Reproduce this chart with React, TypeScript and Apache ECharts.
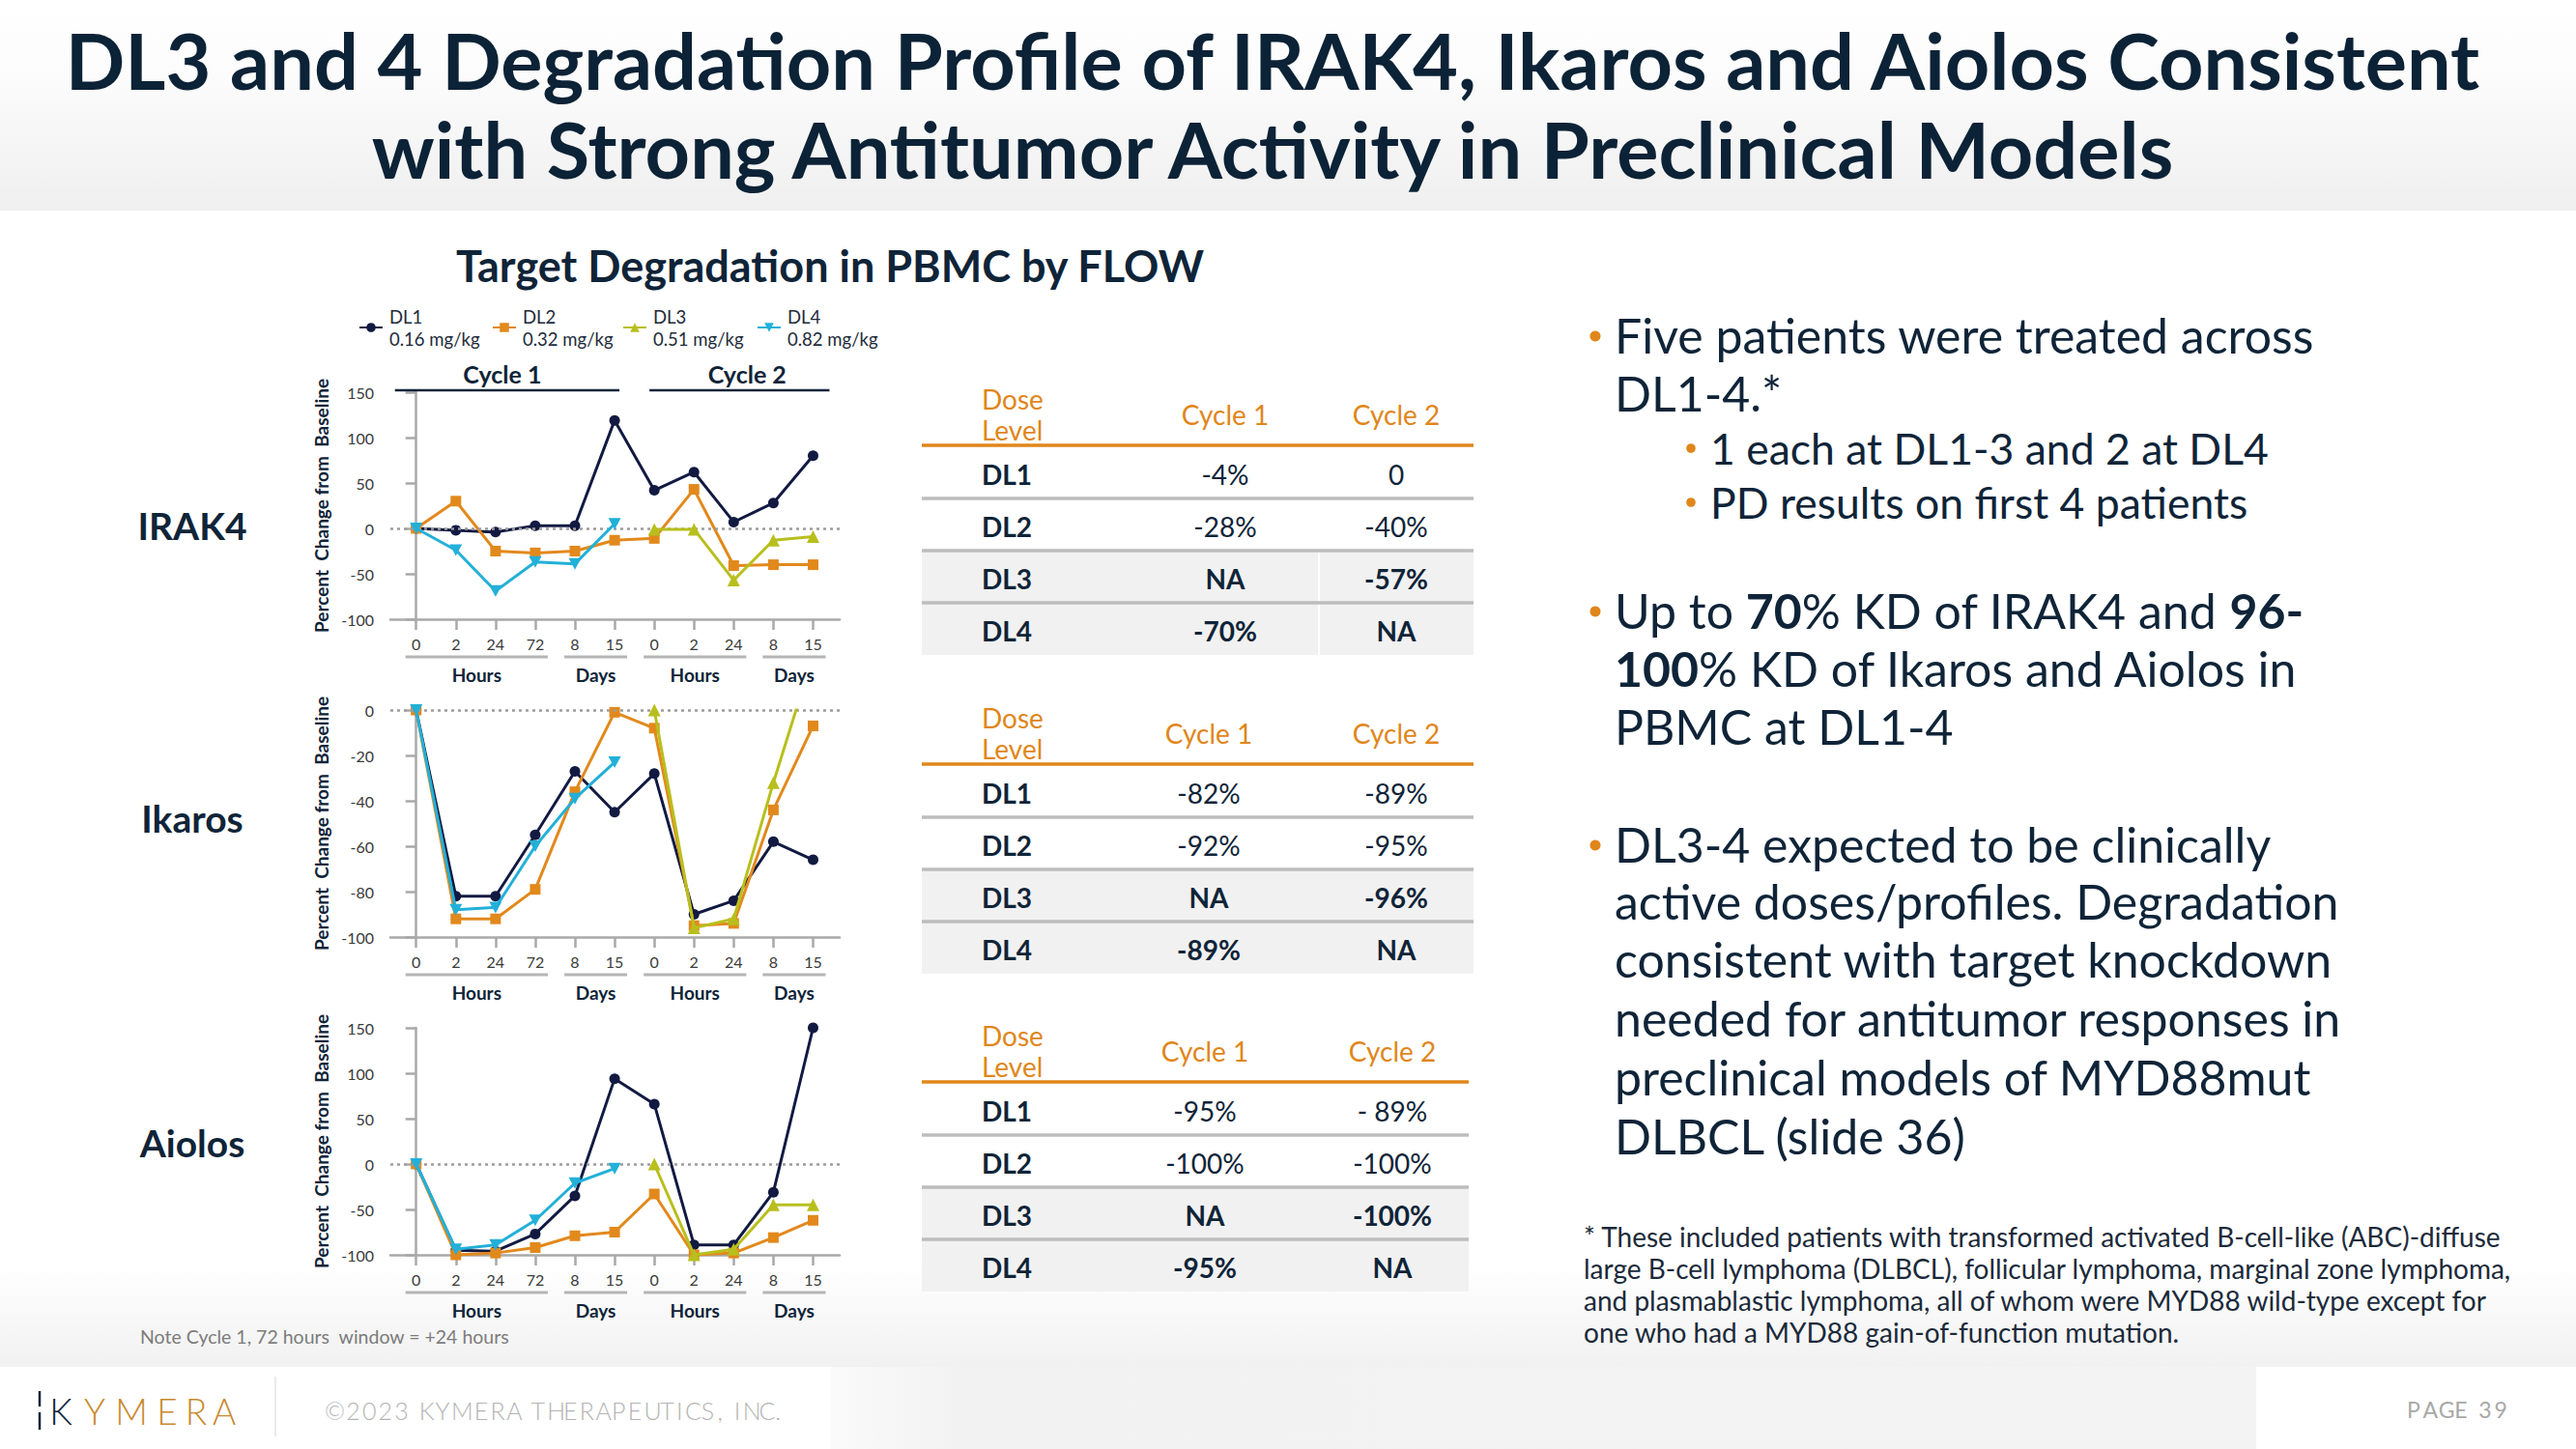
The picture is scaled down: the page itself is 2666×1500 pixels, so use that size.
import React, { useEffect, useRef } from "react";
import * as echarts from "echarts";

// ---------------- DATA ----------------
const timeLabels = ["0", "2", "24", "72", "8", "15", "0", "2", "24", "8", "15"];
const doseNames = ["DL1", "DL2", "DL3", "DL4"];
const doseAmounts = ["0.16 mg/kg", "0.32 mg/kg", "0.51 mg/kg", "0.82 mg/kg"];
const targetNames = ["IRAK4", "Ikaros", "Aiolos"];

const irak4DL1 = [0, -2, -4, 3, 3, 119, 42, 62, 7, 28, 80];
const irak4DL2 = [0, 30, -25, -27, -25, -13, -11, 43, -41, -40, -40];
const irak4DL3 = [null, null, null, null, null, null, -1, -1, -57, -13, -9];
const irak4DL4 = [0, -24, -69, -37, -39, 5, null, null, null, null, null];

const ikarosDL1 = [0, -82, -82, -55, -27, -45, -28, -90, -84, -58, -66];
const ikarosDL2 = [0, -92, -92, -79, -36, -1, -8, -95, -94, -44, -7];
const ikarosDL3 = [null, null, null, null, null, null, 0, -96, -92, -32, 24];
const ikarosDL4 = [0, -88, -87, -60, -39, -23, null, null, null, null, null];

const aiolosDL1 = [0, -95, -96, -77, -35, 94, 66, -89, -89, -31, 150];
const aiolosDL2 = [0, -100, -98, -92, -79, -75, -33, -100, -98, -81, -62];
const aiolosDL3 = [null, null, null, null, null, null, 0, -100, -94, -45, -45];
const aiolosDL4 = [0, -94, -89, -62, -21, -5, null, null, null, null, null];

const tableRowLabels = ["DL1", "DL2", "DL3", "DL4"];
const irak4Cycle1 = ["-4%", "-28%", "NA", "-70%"];
const irak4Cycle2 = ["0", "-40%", "-57%", "NA"];
const ikarosCycle1 = ["-82%", "-92%", "NA", "-89%"];
const ikarosCycle2 = ["-89%", "-95%", "-96%", "NA"];
const aiolosCycle1 = ["-95%", "-100%", "NA", "-95%"];
const aiolosCycle2 = ["- 89%", "-100%", "-100%", "NA"];

const yAxisMins = [-100, -100, -100];
const yAxisMaxs = [150, 0, 150];
const yAxisIntervals = [50, 20, 50];

// ---------------- STYLE / LAYOUT ----------------
const FONT = "Lato, 'Open Sans', 'DejaVu Sans', sans-serif";
const NAVY = "#0f2438";
const ORANGE = "#e0861a";
const AXIS_GRAY = "#a9a9a9";
const doseColors = ["#121a42", "#e2891c", "#b8bf1d", "#22b0d8"];
const doseSymbols = ["circle", "rect", "triangle", "path://M0,0L12,0L6,11Z"];
const doseSymbolSizes = [11, 11, 13, [13, 12]];

const GRID_LEFT = 404;
const GRID_W = 465;
const GRID_H = 235;
const gridTops = [406, 735, 1064];
const X_MIN = -0.65;
const X_MAX = 10.67;
const catX = (i: number) => GRID_LEFT + ((i - X_MIN) * GRID_W) / (X_MAX - X_MIN);

const legendLefts = [366, 504, 639, 778];
const tableOffsets = [0, 330, 659];
const tableC1 = [1268, 1251, 1247];
const tableC2 = [1445, 1445, 1441];
const tableRight = [1525, 1525, 1520];
const rowLabelY = [544, 847, 1183];

const groupSpans = [
  { label: "Hours", from: 0, to: 3 },
  { label: "Days", from: 4, to: 5 },
  { label: "Hours", from: 6, to: 8 },
  { label: "Days", from: 9, to: 10 },
];

const rightLines = [
  { t: "Five patients were treated across", y: 347, lvl: 1, dot: true },
  { t: "DL1-4.*", y: 407, lvl: 1, dot: false },
  { t: "1 each at DL1-3 and 2 at DL4", y: 463, lvl: 2, dot: true },
  { t: "PD results on first 4 patients", y: 519, lvl: 2, dot: true },
  { t: "Up to {b|70}% KD of IRAK4 and {b|96-}", y: 632, lvl: 1, dot: true },
  { t: "{b|100}% KD of Ikaros and Aiolos in", y: 692, lvl: 1, dot: false },
  { t: "PBMC at DL1-4", y: 752, lvl: 1, dot: false },
  { t: "DL3-4 expected to be clinically", y: 874, lvl: 1, dot: true },
  { t: "active doses/profiles. Degradation", y: 933, lvl: 1, dot: false },
  { t: "consistent with target knockdown", y: 993, lvl: 1, dot: false },
  { t: "needed for antitumor responses in", y: 1054, lvl: 1, dot: false },
  { t: "preclinical models of MYD88mut", y: 1115, lvl: 1, dot: false },
  { t: "DLBCL (slide 36)", y: 1176, lvl: 1, dot: false },
];

const footnoteLines = [
  "* These included patients with transformed activated B-cell-like (ABC)-diffuse",
  "large B-cell lymphoma (DLBCL), follicular lymphoma, marginal zone lymphoma,",
  "and plasmablastic lymphoma, all of whom were MYD88 wild-type except for",
  "one who had a MYD88 gain-of-function mutation.",
];
const footnoteY = [1280, 1313, 1346, 1379];

function txt(x: number, y: number, text: string, o: any = {}) {
  return {
    type: "text",
    x,
    y,
    silent: true,
    z: o.z ?? 10,
    style: {
      text,
      fill: o.fill ?? NAVY,
      fontFamily: FONT,
      fontSize: o.size ?? 20,
      fontWeight: o.weight ?? "normal",
      textAlign: o.align ?? "left",
      textVerticalAlign: "middle",
      align: o.align ?? "left",
      verticalAlign: "middle",
      rich: o.rich,
    },
  };
}

function line(x1: number, y1: number, x2: number, y2: number, stroke: string, w: number, z = 5) {
  return { type: "line", silent: true, z, shape: { x1, y1, x2, y2 }, style: { stroke, lineWidth: w } };
}

// draws a string one character at a time to emulate letter spacing
function spaced(x: number, y: number, text: string, size: number, spacing: number, fill: string, weight: any, approxW: number) {
  const out: any[] = [];
  let cx = x;
  for (const ch of text) {
    out.push(txt(cx, y, ch, { size, fill, weight }));
    const w = ch === " " ? 0.26 : ch === "," ? 0.25 : ch === "." ? 0.25 : ch === "I" ? 0.28 : ch === "M" ? 0.86 : ch === "©" ? 0.8 : approxW;
    cx += w * size + spacing;
  }
  return out;
}

function buildGraphics() {
  const g: any[] = [];
  // backgrounds
  g.push({
    type: "rect", silent: true, z: 0, shape: { x: 0, y: 0, width: 2666, height: 218 },
    style: { fill: { type: "linear", x: 0, y: 0, x2: 0, y2: 1, colorStops: [{ offset: 0, color: "#ffffff" }, { offset: 0.35, color: "#fcfcfc" }, { offset: 1, color: "#efefef" }] } },
  });
  g.push({
    type: "rect", silent: true, z: 0, shape: { x: 0, y: 1310, width: 2666, height: 105 },
    style: { fill: { type: "linear", x: 0, y: 0, x2: 0, y2: 1, colorStops: [{ offset: 0, color: "#ffffff" }, { offset: 1, color: "#f1f1f1" }] } },
  });
  g.push({
    type: "rect", silent: true, z: 0, shape: { x: 860, y: 1415, width: 1475, height: 85 },
    style: { fill: { type: "linear", x: 0, y: 0, x2: 1, y2: 0, colorStops: [{ offset: 0, color: "#fafafa" }, { offset: 0.09, color: "#f2f2f2" }, { offset: 1, color: "#f3f3f3" }] } },
  });

  // title
  g.push(txt(1317, 61, "DL3 and 4 Degradation Profile of IRAK4, Ikaros and Aiolos Consistent", { size: 81, weight: "bold", align: "center", fill: "#0c2236" }));
  g.push(txt(1317, 153, "with Strong Antitumor Activity in Preclinical Models", { size: 81, weight: "bold", align: "center", fill: "#0c2236" }));
  g.push(txt(859, 275, "Target Degradation in PBMC by FLOW", { size: 45, weight: "bold", align: "center" }));

  // row labels
  targetNames.forEach((n, k) => g.push(txt(199, rowLabelY[k], n, { size: 39, weight: "bold", align: "center" })));

  // cycle headers
  g.push(txt(catX(2.17), 387, "Cycle 1", { size: 25, weight: "bold", align: "center" }));
  g.push(txt(catX(8.34), 387, "Cycle 2", { size: 25, weight: "bold", align: "center" }));
  g.push(line(catX(0) - 22, 404, catX(5) + 5, 404, NAVY, 2.5));
  g.push(line(catX(6) - 5, 404, catX(10) + 17, 404, NAVY, 2.5));

  // hours/days groups below each chart
  gridTops.forEach((top) => {
    const bottom = top + GRID_H;
    groupSpans.forEach((s) => {
      const x1 = catX(s.from) - 11;
      const x2 = catX(s.to) + 13;
      g.push(line(x1, bottom + 39, x2, bottom + 39, "#b5b5b5", 3));
      g.push(txt((x1 + x2) / 2, bottom + 57, s.label, { size: 19, weight: "bold", align: "center" }));
    });
  });

  g.push(txt(145, 1383, "Note Cycle 1, 72 hours  window = +24 hours", { size: 19.5, fill: "#7c7c7c" }));

  // tables
  const tableData = [
    [irak4Cycle1, irak4Cycle2],
    [ikarosCycle1, ikarosCycle2],
    [aiolosCycle1, aiolosCycle2],
  ];
  tableData.forEach((cols, k) => {
    const o = tableOffsets[k];
    const L = 954;
    const R = tableRight[k];
    g.push({ type: "rect", silent: true, z: 1, shape: { x: L, y: 571 + o, width: R - L, height: 107 }, style: { fill: "#f1f1f1" } });
    if (k === 0) g.push(line(1365, 572, 1365, 678, "#ffffff", 2, 2));
    g.push(line(L, 461 + o, R, 461 + o, ORANGE, 3.5, 3));
    [516, 570, 624].forEach((yy) => g.push(line(L, yy + o, R, yy + o, "#bdbdbd", 3.5, 3)));
    g.push(txt(1016, 413 + o, "Dose", { size: 28, fill: ORANGE }));
    g.push(txt(1016, 445 + o, "Level", { size: 28, fill: ORANGE }));
    g.push(txt(tableC1[k], 429 + o, "Cycle 1", { size: 28, fill: ORANGE, align: "center" }));
    g.push(txt(tableC2[k], 429 + o, "Cycle 2", { size: 28, fill: ORANGE, align: "center" }));
    tableRowLabels.forEach((lab, r) => {
      const yy = 491 + r * 54 + o;
      const w = r >= 2 ? "bold" : "normal";
      g.push(txt(1016, yy, lab, { size: 28, weight: "bold" }));
      g.push(txt(tableC1[k], yy, cols[0][r], { size: 28, weight: w, align: "center" }));
      g.push(txt(tableC2[k], yy, cols[1][r], { size: 28, weight: w, align: "center" }));
    });
  });

  // right-hand text
  rightLines.forEach((ln) => {
    const dotX = ln.lvl === 1 ? 1651 : 1750;
    const tx = ln.lvl === 1 ? 1671 : 1770;
    const size = ln.lvl === 1 ? 50 : 44.5;
    if (ln.dot) g.push({ type: "circle", silent: true, z: 10, shape: { cx: dotX, cy: ln.y + 1, r: ln.lvl === 1 ? 5.5 : 4.8 }, style: { fill: ORANGE } });
    g.push(
      txt(tx, ln.y, ln.t, {
        size,
        rich: { b: { fontFamily: FONT, fontSize: size, fontWeight: "bold", fill: NAVY, color: NAVY } },
      })
    );
  });
  footnoteLines.forEach((t, i) => g.push(txt(1639, footnoteY[i], t, { size: 28, fill: "#1b2a3a" })));

  // footer
  g.push(line(41, 1440, 41, 1456, NAVY, 2.5));
  g.push(line(41, 1462, 41, 1480, NAVY, 2.5));
  const logo = ["K", "Y", "M", "E", "R", "A"];
  const logoX = [63, 98, 136, 173, 203, 232];
  logo.forEach((c, i) =>
    g.push(txt(logoX[i], 1460, c, { size: 37, weight: 300, align: "center", fill: i === 0 ? NAVY : "#c8892c" }))
  );
  g.push(line(285, 1425, 285, 1487, "#e3e3e3", 1.5));
  g.push(...spaced(336, 1460, "©2023 KYMERA THERAPEUTICS, INC.", 25, 2.2, "#b3b3b3", 300, 0.58));
  g.push(...spaced(2491, 1459, "PAGE 39", 23, 2.6, "#a8a8a8", "normal", 0.6));
  return g;
}

function buildOption() {
  const seriesData = [
    [irak4DL1, irak4DL2, irak4DL3, irak4DL4],
    [ikarosDL1, ikarosDL2, ikarosDL3, ikarosDL4],
    [aiolosDL1, aiolosDL2, aiolosDL3, aiolosDL4],
  ];
  const tickIdx = timeLabels.map((_, i) => i);
  const grid = gridTops.map((top) => ({ left: GRID_LEFT, top, width: GRID_W, height: GRID_H, containLabel: false }));
  const xAxis = gridTops.map((_, g) => ({
    type: "value",
    gridIndex: g,
    min: X_MIN,
    max: X_MAX,
    axisLine: { show: true, onZero: false, lineStyle: { color: AXIS_GRAY, width: 2.5 } },
    axisTick: { show: true, customValues: tickIdx, length: 11, lineStyle: { color: AXIS_GRAY, width: 2.5 } },
    axisLabel: {
      customValues: tickIdx,
      formatter: (v: number) => timeLabels[Math.round(v)] ?? "",
      margin: 17,
      fontFamily: FONT,
      fontSize: 16,
      color: "#3a3a3a",
    },
    splitLine: { show: false },
  }));
  const yAxis = gridTops.map((_, g) => ({
    type: "value",
    gridIndex: g,
    min: yAxisMins[g],
    max: yAxisMaxs[g],
    interval: yAxisIntervals[g],
    axisLine: { show: true, lineStyle: { color: AXIS_GRAY, width: 2.5 } },
    axisTick: { show: true, length: 11, lineStyle: { color: AXIS_GRAY, width: 2.5 } },
    axisLabel: { margin: 17, fontFamily: FONT, fontSize: 16, color: "#3a3a3a" },
    splitLine: { show: false },
    name: "Percent  Change from  Baseline",
    nameLocation: "middle",
    nameRotate: 90,
    nameGap: 62,
    nameTextStyle: { fontFamily: FONT, fontSize: 19, fontWeight: "bold", color: NAVY },
  }));
  const series: any[] = [];
  gridTops.forEach((_, g) => {
    series.push({
      type: "line",
      name: "zero",
      xAxisIndex: g,
      yAxisIndex: g,
      data: [],
      z: 1,
      silent: true,
      markLine: {
        silent: true,
        symbol: "none",
        label: { show: false },
        lineStyle: { type: [3, 4], color: "#9c9c9c", width: 2.5 },
        data: [{ yAxis: 0 }],
      },
    });
    doseNames.forEach((name, d) => {
      series.push({
        type: "line",
        name,
        xAxisIndex: g,
        yAxisIndex: g,
        data: seriesData[g][d].map((v, i) => [i, v === null ? "-" : v]),
        symbol: doseSymbols[d],
        symbolSize: doseSymbolSizes[d],
        showSymbol: true,
        clip: true,
        z: 3 + d,
        itemStyle: { color: doseColors[d] },
        lineStyle: { color: doseColors[d], width: 3 },
        emphasis: { disabled: true },
      });
    });
  });
  const legend = doseNames.map((n, i) => ({
    data: [n],
    left: legendLefts[i],
    top: 311,
    itemWidth: 24,
    itemHeight: 12,
    selectedMode: false,
    formatter: () => `${n}\n${doseAmounts[i]}`,
    textStyle: { fontFamily: FONT, fontSize: 18.5, lineHeight: 23, color: "#1e2b3a", padding: [0, 0, 0, 2] },
  }));
  return {
    animation: false,
    backgroundColor: "#ffffff",
    grid,
    xAxis,
    yAxis,
    series,
    legend,
    graphic: { elements: buildGraphics() },
  };
}

export default function App() {
  const ref = useRef<HTMLDivElement>(null);
  useEffect(() => {
    if (!ref.current) return;
    const chart = echarts.init(ref.current, null, { renderer: "svg" });
    chart.setOption(buildOption() as any);
    return () => chart.dispose();
  }, []);
  return (
    <div
      ref={ref}
      style={{ position: "fixed", left: 0, top: 0, width: 2666, height: 1500, background: "#ffffff" }}
    />
  );
}
